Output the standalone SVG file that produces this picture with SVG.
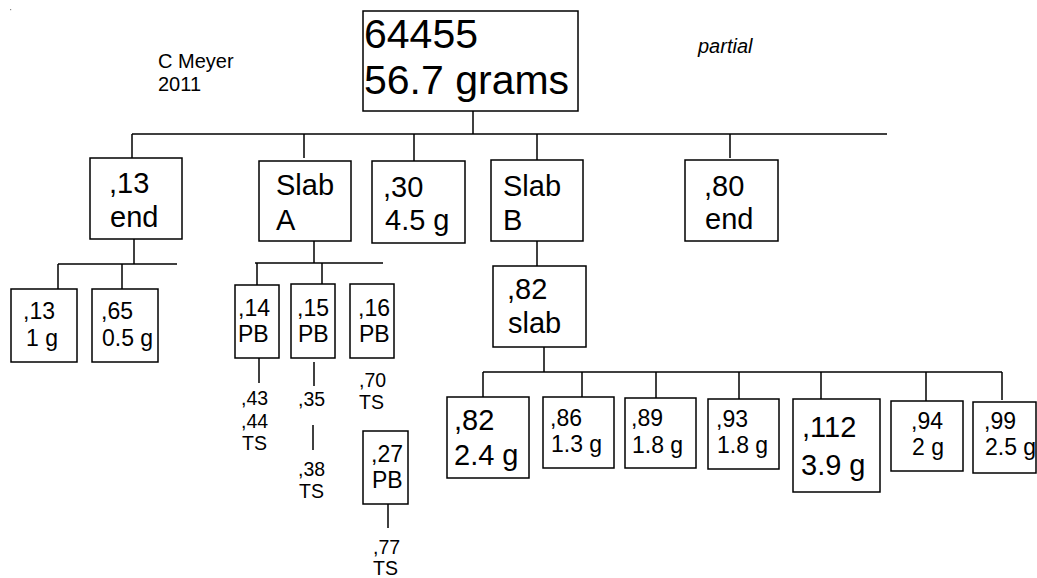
<svg xmlns="http://www.w3.org/2000/svg" width="1037" height="578" viewBox="0 0 1037 578">
<style>
rect.b{fill:#fff;stroke:#000;stroke-width:1.5}
line{stroke:#000;stroke-width:1.5}
text{font-family:"Liberation Sans",Arial,sans-serif;fill:#000}
.f40{font-size:41px}
.f29{font-size:29px}
.f23{font-size:23px}
.f20{font-size:20px}
.f19{font-size:19.5px}
</style>
<rect x="10" y="9" width="1.2" height="1.2" fill="#888"/>
<g id="connectors">
<line x1="473" y1="111" x2="473" y2="134"/>
<line x1="132" y1="134" x2="887" y2="134"/>
<line x1="132" y1="134" x2="132" y2="158"/>
<line x1="304" y1="134" x2="304" y2="158"/>
<line x1="414" y1="134" x2="414" y2="161"/>
<line x1="537" y1="134" x2="537" y2="160"/>
<line x1="730" y1="134" x2="730" y2="158"/>
<line x1="134" y1="239" x2="134" y2="264"/>
<line x1="58" y1="264" x2="177" y2="264"/>
<line x1="58" y1="264" x2="58" y2="289"/>
<line x1="122" y1="264" x2="122" y2="289"/>
<line x1="314" y1="241" x2="314" y2="263"/>
<line x1="255" y1="263" x2="383" y2="263"/>
<line x1="257" y1="263" x2="257" y2="285"/>
<line x1="322" y1="263" x2="322" y2="285"/>
<line x1="259" y1="358" x2="259" y2="383"/>
<line x1="314" y1="362" x2="314" y2="386"/>
<line x1="313" y1="425" x2="313" y2="450"/>
<line x1="388" y1="504" x2="388" y2="528"/>
<line x1="537" y1="241" x2="537" y2="266"/>
<line x1="544" y1="347" x2="544" y2="372"/>
<line x1="483" y1="372" x2="1002" y2="372"/>
<line x1="483" y1="372" x2="483" y2="397"/>
<line x1="582" y1="372" x2="582" y2="397"/>
<line x1="656" y1="372" x2="656" y2="398"/>
<line x1="739" y1="372" x2="739" y2="399"/>
<line x1="821" y1="372" x2="821" y2="399"/>
<line x1="926" y1="372" x2="926" y2="401"/>
<line x1="1002" y1="372" x2="1002" y2="400"/>
</g>
<g id="author"><text class="f20" x="158" y="68">C Meyer</text><text class="f20" x="158" y="91">2011</text></g>
<g id="partial"><text class="f20" x="698" y="53" font-style="italic">partial</text></g>
<g id="root"><rect class="b" x="363" y="11" width="215" height="100"/><text class="f40" x="364" y="48">64455</text><text class="f40" x="364" y="94">56.7 grams</text></g>
<g id="n13end"><rect class="b" x="90" y="158" width="92" height="81"/><text class="f29" x="109" y="193">,13</text><text class="f29" x="110" y="227">end</text></g>
<g id="slabA"><rect class="b" x="259" y="161" width="92" height="80"/><text class="f29" x="276" y="195">Slab</text><text class="f29" x="276" y="230">A</text></g>
<g id="n30"><rect class="b" x="372" y="161" width="93" height="82"/><text class="f29" x="383" y="197">,30</text><text class="f29" x="385" y="230">4.5 g</text></g>
<g id="slabB"><rect class="b" x="491" y="160" width="92" height="81"/><text class="f29" x="503" y="196">Slab</text><text class="f29" x="503" y="230">B</text></g>
<g id="n80end"><rect class="b" x="685" y="160" width="93" height="81"/><text class="f29" x="704" y="196">,80</text><text class="f29" x="705" y="229">end</text></g>
<g id="n13"><rect class="b" x="11" y="289" width="66" height="73"/><text class="f23" x="23" y="319">,13</text><text class="f23" x="26" y="346">1 g</text></g>
<g id="n65"><rect class="b" x="92" y="289" width="66" height="73"/><text class="f23" x="101" y="319">,65</text><text class="f23" x="102" y="346">0.5 g</text></g>
<g id="n14"><rect class="b" x="235" y="285" width="44" height="73"/><text class="f23" x="238" y="316">,14</text><text class="f23" x="238" y="342">PB</text></g>
<g id="n15"><rect class="b" x="291" y="284" width="44" height="74"/><text class="f23" x="297" y="316">,15</text><text class="f23" x="298" y="342">PB</text></g>
<g id="n16"><rect class="b" x="350" y="284" width="44" height="74"/><text class="f23" x="358" y="316">,16</text><text class="f23" x="359" y="342">PB</text></g>
<g id="t43"><text class="f19" x="241" y="405">,43</text><text class="f19" x="241" y="428">,44</text><text class="f19" x="242" y="450">TS</text></g>
<g id="t35"><text class="f19" x="298" y="406">,35</text></g>
<g id="t38"><text class="f19" x="298" y="476">,38</text><text class="f19" x="299" y="498">TS</text></g>
<g id="t70"><text class="f19" x="359" y="387">,70</text><text class="f19" x="359" y="409">TS</text></g>
<g id="n27"><rect class="b" x="363" y="431" width="45" height="73"/><text class="f23" x="371" y="462">,27</text><text class="f23" x="372" y="488">PB</text></g>
<g id="t77"><text class="f19" x="373" y="554">,77</text><text class="f19" x="373" y="575">TS</text></g>
<g id="n82slab"><rect class="b" x="493" y="266" width="93" height="81"/><text class="f29" x="507" y="299">,82</text><text class="f29" x="508" y="333">slab</text></g>
<g id="n82"><rect class="b" x="447" y="397" width="82" height="81"/><text class="f29" x="454" y="430">,82</text><text class="f29" x="454" y="465">2.4 g</text></g>
<g id="n86"><rect class="b" x="543" y="397" width="71" height="71"/><text class="f23" x="550" y="426">,86</text><text class="f23" x="551" y="452">1.3 g</text></g>
<g id="n89"><rect class="b" x="625" y="398" width="71" height="70"/><text class="f23" x="631" y="426">,89</text><text class="f23" x="632" y="453">1.8 g</text></g>
<g id="n93"><rect class="b" x="708" y="399" width="71" height="70"/><text class="f23" x="716" y="427">,93</text><text class="f23" x="717" y="453">1.8 g</text></g>
<g id="n112"><rect class="b" x="793" y="399" width="87" height="93"/><text class="f29" x="802" y="437">,112</text><text class="f29" x="801" y="475">3.9 g</text></g>
<g id="n94"><rect class="b" x="891" y="401" width="72" height="70"/><text class="f23" x="911" y="429">,94</text><text class="f23" x="912" y="455">2 g</text></g>
<g id="n99"><rect class="b" x="973" y="402" width="63" height="71"/><text class="f23" x="984" y="429">,99</text><text class="f23" x="985" y="455">2.5 g</text></g>
</svg>
